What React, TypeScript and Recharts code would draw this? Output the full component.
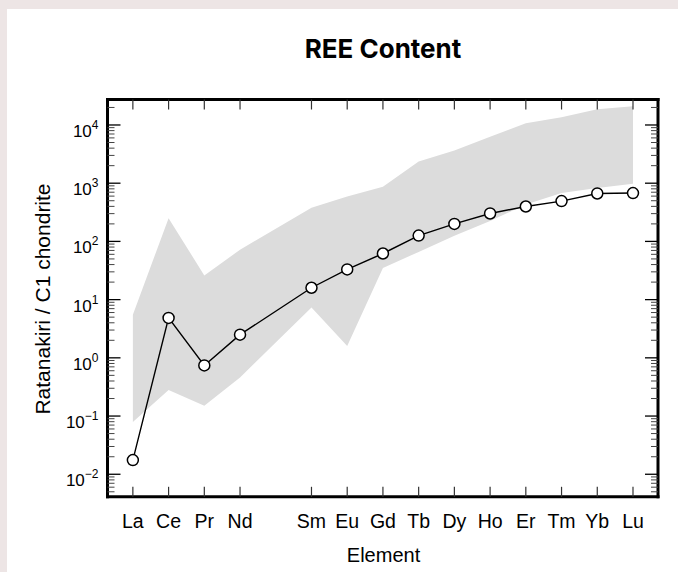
import { ComposedChart, Area, Line, XAxis, YAxis } from 'recharts';

// chondrite-normalised REE pattern (Pm has no value)
const elements = ['La', 'Ce', 'Pr', 'Nd', 'Pm', 'Sm', 'Eu', 'Gd', 'Tb', 'Dy', 'Ho', 'Er', 'Tm', 'Yb', 'Lu'];
const sample = [0.0175, 4.85, 0.74, 2.5, null, 16, 33, 62, 126, 200, 302, 398, 493, 666, 677];
const bandLow = [0.079, 0.28, 0.15, 0.46, null, 7.3, 1.6, 35, 66, 125, 225, 430, 677, 830, 980];
const bandHigh = [5.5, 251, 26, 72, null, 377, 590, 870, 2350, 3650, 6300, 10700, 13600, 18700, 21000];

const decades = [-3, -2, -1, 0, 1, 2, 3, 4];
const multipliers = [1, 2, 3, 4, 5, 6, 7, 8, 9];
const yDomain: [number, number] = [0.0041, 27400];

const yTicks = decades
    .flatMap((d) => multipliers.map((m) => Number((m * Math.pow(10, d)).toPrecision(3))))
    .filter((v) => v >= yDomain[0] && v <= yDomain[1]);

const rows = elements
    .map((el, i) => ({ pos: i, el, value: sample[i], band: [bandLow[i], bandHigh[i]] }))
    .filter((r) => r.value != null);

const xTicks = rows.map((r) => r.pos);

const font = "'Liberation Sans', Arial, sans-serif";
const frame = { stroke: '#000', strokeWidth: 3, strokeLinecap: 'square' as const };

const isMajor = (v: number) => Math.abs(Math.log10(v) - Math.round(Math.log10(v))) < 1e-6;

function LeftTick({ x, y, payload }: any) {
    const v = payload.value;
    const major = isMajor(v);
    const exp = Math.round(Math.log10(v));
    return (
        <g>
            <line x1={x} x2={x + (major ? 13 : 7)} y1={y} y2={y} stroke={major ? '#000' : '#444'} strokeWidth={major ? 1.3 : 1} />
            {major && (
                <text x={x - 9} y={y + 12} textAnchor="end" fontSize={17} fill="#000" fontFamily={font}>
                    <tspan>10</tspan>
                    <tspan dy={-8} fontSize={12}>{exp < 0 ? '\u2212' + Math.abs(exp) : exp}</tspan>
                </text>
            )}
        </g>
    );
}

function RightTick({ x, y, payload }: any) {
    const major = isMajor(payload.value);
    return <line x1={x} x2={x - (major ? 13 : 7)} y1={y} y2={y} stroke={major ? '#000' : '#444'} strokeWidth={major ? 1.3 : 1} />;
}

function TopTick({ x, y }: any) {
    return <line x1={x} x2={x} y1={y} y2={y + 10} stroke="#333" strokeWidth={1.2} />;
}

function BottomTick({ x, y, payload }: any) {
    return (
        <g>
            <line x1={x} x2={x} y1={y} y2={y - 10} stroke="#333" strokeWidth={1.2} />
            <text x={x} y={y + 31} textAnchor="middle" fontSize={19.5} fill="#000" fontFamily={font}>
                {elements[payload.value]}
            </text>
        </g>
    );
}

export default function App() {
    return (
        <div style={{ position: 'relative', width: 678, height: 572, background: '#ede5e5', overflow: 'hidden' }}>
            <style>{'body{margin:0}'}</style>
            <div style={{ position: 'absolute', left: 7, top: 9, right: 0, bottom: 0, background: '#fff' }} />
            <div style={{ position: 'absolute', left: 0, top: 0 }}>
                <ComposedChart width={678} height={572} data={rows} margin={{ top: 89.5, right: 10, bottom: 35.2, left: 0 }}>
                    <XAxis
                        xAxisId="bottom"
                        dataKey="pos"
                        type="number"
                        domain={[-0.71, 14.7]}
                        allowDataOverflow
                        ticks={xTicks}
                        interval={0}
                        height={40}
                        tickSize={0}
                        tickMargin={0}
                        tickLine={false}
                        axisLine={frame}
                        tick={<BottomTick />}
                    />
                    <XAxis
                        xAxisId="top"
                        orientation="top"
                        dataKey="pos"
                        type="number"
                        domain={[-0.71, 14.7]}
                        allowDataOverflow
                        ticks={xTicks}
                        interval={0}
                        height={10}
                        tickSize={0}
                        tickMargin={0}
                        tickLine={false}
                        axisLine={frame}
                        tick={<TopTick />}
                    />
                    <YAxis
                        yAxisId="left"
                        scale="log"
                        type="number"
                        domain={yDomain}
                        allowDataOverflow
                        ticks={yTicks}
                        interval={0}
                        width={107.5}
                        tickSize={0}
                        tickMargin={0}
                        tickLine={false}
                        axisLine={frame}
                        tick={<LeftTick />}
                    />
                    <YAxis
                        yAxisId="right"
                        orientation="right"
                        scale="log"
                        type="number"
                        domain={yDomain}
                        allowDataOverflow
                        ticks={yTicks}
                        interval={0}
                        width={10}
                        tickSize={0}
                        tickMargin={0}
                        tickLine={false}
                        axisLine={frame}
                        tick={<RightTick />}
                    />
                    <Area
                        xAxisId="bottom"
                        yAxisId="left"
                        dataKey="band"
                        type="linear"
                        fill="#dcdcdc"
                        fillOpacity={1}
                        stroke="none"
                        isAnimationActive={false}
                    />
                    <Line
                        xAxisId="bottom"
                        yAxisId="left"
                        dataKey="value"
                        type="linear"
                        stroke="#000"
                        strokeWidth={1.4}
                        dot={{ r: 5.5, fill: '#fff', stroke: '#000', strokeWidth: 1.5 }}
                        activeDot={false}
                        connectNulls
                        isAnimationActive={false}
                    />
                </ComposedChart>
            </div>
            <svg width={678} height={572} style={{ position: 'absolute', left: 0, top: 0, pointerEvents: 'none' }}>
                <text x={383} y={58} textAnchor="middle" fontSize={26} fontWeight={700} fill="#000" fontFamily="Inter, 'Open Sans', sans-serif">
                    REE Content
                </text>
                <text transform="translate(50,299) rotate(-90)" textAnchor="middle" fontSize={21} fill="#000" fontFamily={font}>
                    Ratanakiri / C1 chondrite
                </text>
                <text x={383.5} y={562} textAnchor="middle" fontSize={20} fill="#000" fontFamily={font}>
                    Element
                </text>
            </svg>
        </div>
    );
}
